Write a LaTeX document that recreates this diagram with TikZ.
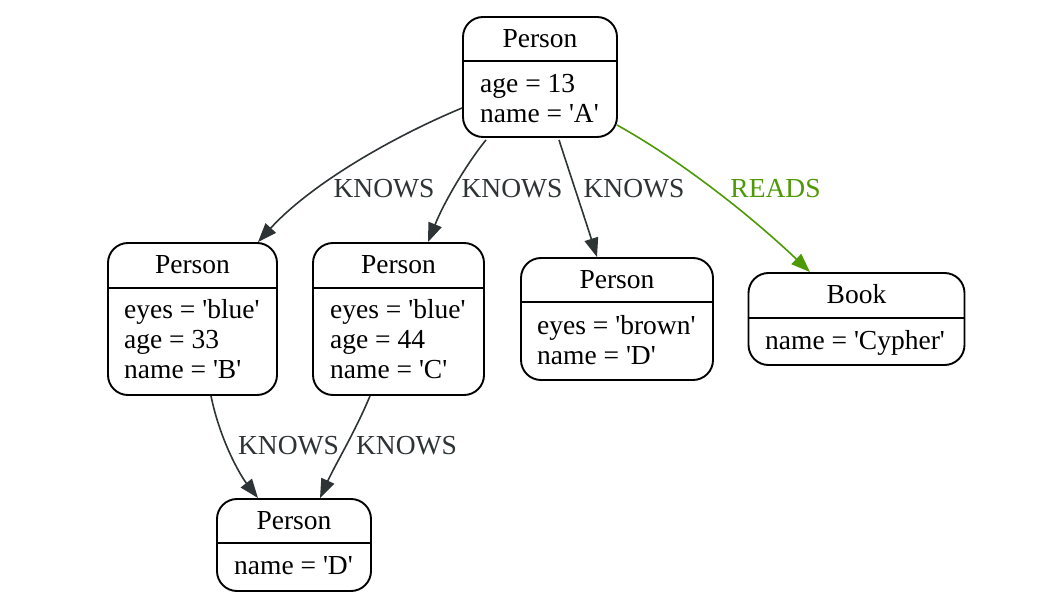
\documentclass[tikz,border=0pt]{standalone}
\usepackage{fontspec}
\setmainfont{Liberation Serif}[Ligatures=TeXOff]
\usetikzlibrary{arrows.meta,calc}
\definecolor{edgec}{HTML}{2E3436}
\definecolor{readc}{HTML}{4E9A06}
\begin{document}
\begin{tikzpicture}[x=1pt,y=-1pt,
  box/.style={draw=black,line width=1.9pt,rounded corners=20pt,inner sep=0pt},
  sep/.style={draw=black,line width=1.9pt},
  title/.style={anchor=base,inner sep=0pt,font=\fontsize{27.5}{30}\selectfont},
  attr/.style={anchor=base west,inner sep=0pt,font=\fontsize{27.5}{30}\selectfont},
  rel/.style={draw=edgec,line width=1.6pt,-{Triangle[length=19pt,width=14pt]}},
  relg/.style={draw=readc,line width=1.6pt,-{Triangle[length=19pt,width=14pt]}},
  lbl/.style={anchor=base,inner sep=0pt,text=edgec,font=\fontsize{27.5}{30}\selectfont},
  lblg/.style={anchor=base,inner sep=0pt,text=readc,font=\fontsize{27.5}{30}\selectfont},
]
\useasboundingbox[fill=white] (0,0) rectangle (1055,609);

% Node A
\node[box,minimum width=154pt,minimum height=120pt] (A) at (540,77) {};
\draw[sep] ($(A.north west)+(0,45)$) -- ($(A.north east)+(0,45)$);
\node[title] (At) at (540,48) {Person};
\node[attr] (A1) at (480,93) {age = 13};
\node[attr] (A2) at (480,123) {name = 'A'};

% Node B
\node[box,minimum width=169pt,minimum height=152pt] (B) at (192.5,319) {};
\draw[sep] ($(B.north west)+(0,46)$) -- ($(B.north east)+(0,46)$);
\node[title] (Bt) at (192.5,274) {Person};
\node[attr] (B1) at (124,319) {eyes = 'blue'};
\node[attr] (B2) at (124,349) {age = 33};
\node[attr] (B3) at (124,379) {name = 'B'};

% Node C
\node[box,minimum width=171pt,minimum height=152pt] (C) at (398.5,319) {};
\draw[sep] ($(C.north west)+(0,46)$) -- ($(C.north east)+(0,46)$);
\node[title] (Ct) at (398.5,274) {Person};
\node[attr] (C1) at (330,319) {eyes = 'blue'};
\node[attr] (C2) at (330,349) {age = 44};
\node[attr] (C3) at (330,379) {name = 'C'};

% Node D
\node[box,minimum width=192pt,minimum height=122pt] (D) at (617,319) {};
\draw[sep] ($(D.north west)+(0,45)$) -- ($(D.north east)+(0,45)$);
\node[title] (Dt) at (617,289) {Person};
\node[attr] (D1) at (537,335) {eyes = 'brown'};
\node[attr] (D2) at (537,365) {name = 'D'};

% Node Book
\node[box,minimum width=216pt,minimum height=92pt] (K) at (856.5,319) {};
\draw[sep] ($(K.north west)+(0,46)$) -- ($(K.north east)+(0,46)$);
\node[title] (Kt) at (856.5,304) {Book};
\node[attr] (K1) at (765,350) {name = 'Cypher'};

% Node E (bottom)
\node[box,minimum width=154pt,minimum height=92pt] (E) at (294,545) {};
\draw[sep] ($(E.north west)+(0,45)$) -- ($(E.north east)+(0,45)$);
\node[title] (Et) at (294,529) {Person};
\node[attr] (E1) at (234,574) {name = 'D'};

% Edges
\draw[rel] ($(A.west)+(0,31)$) .. controls (390,138) and (310,185) .. ($(B.north)+(65.5,0)$);
\draw[rel] ($(A.south)+(-54,2)$) .. controls (468,162) and (445,200) .. ($(C.north)+(29.5,0)$);
\draw[rel] ($(A.south)+(19,2)$) .. controls (572,180) and (586,222) .. ($(D.north)+(-20,0)$);
\draw[relg] ($(A.east)+(-1,48)$) .. controls (680,160) and (750,215) .. ($(K.north)+(-46.5,0)$);
\draw[rel] ($(B.south)+(18.5,0)$) .. controls (220,440) and (240,475) .. ($(E.north)+(-36,0)$);
\draw[rel] ($(C.south)+(-28.5,0)$) .. controls (355,432) and (335,465) .. ($(E.north)+(26,0)$);

% Edge labels
\node[lbl] (L1) at (384,198) {KNOWS};
\node[lbl] (L2) at (512,198) {KNOWS};
\node[lbl] (L3) at (634,198) {KNOWS};
\node[lblg] (L4) at (775.5,198) {READS};
\node[lbl] (L5) at (288.5,454) {KNOWS};
\node[lbl] (L6) at (406.5,454) {KNOWS};
\end{tikzpicture}
\end{document}
